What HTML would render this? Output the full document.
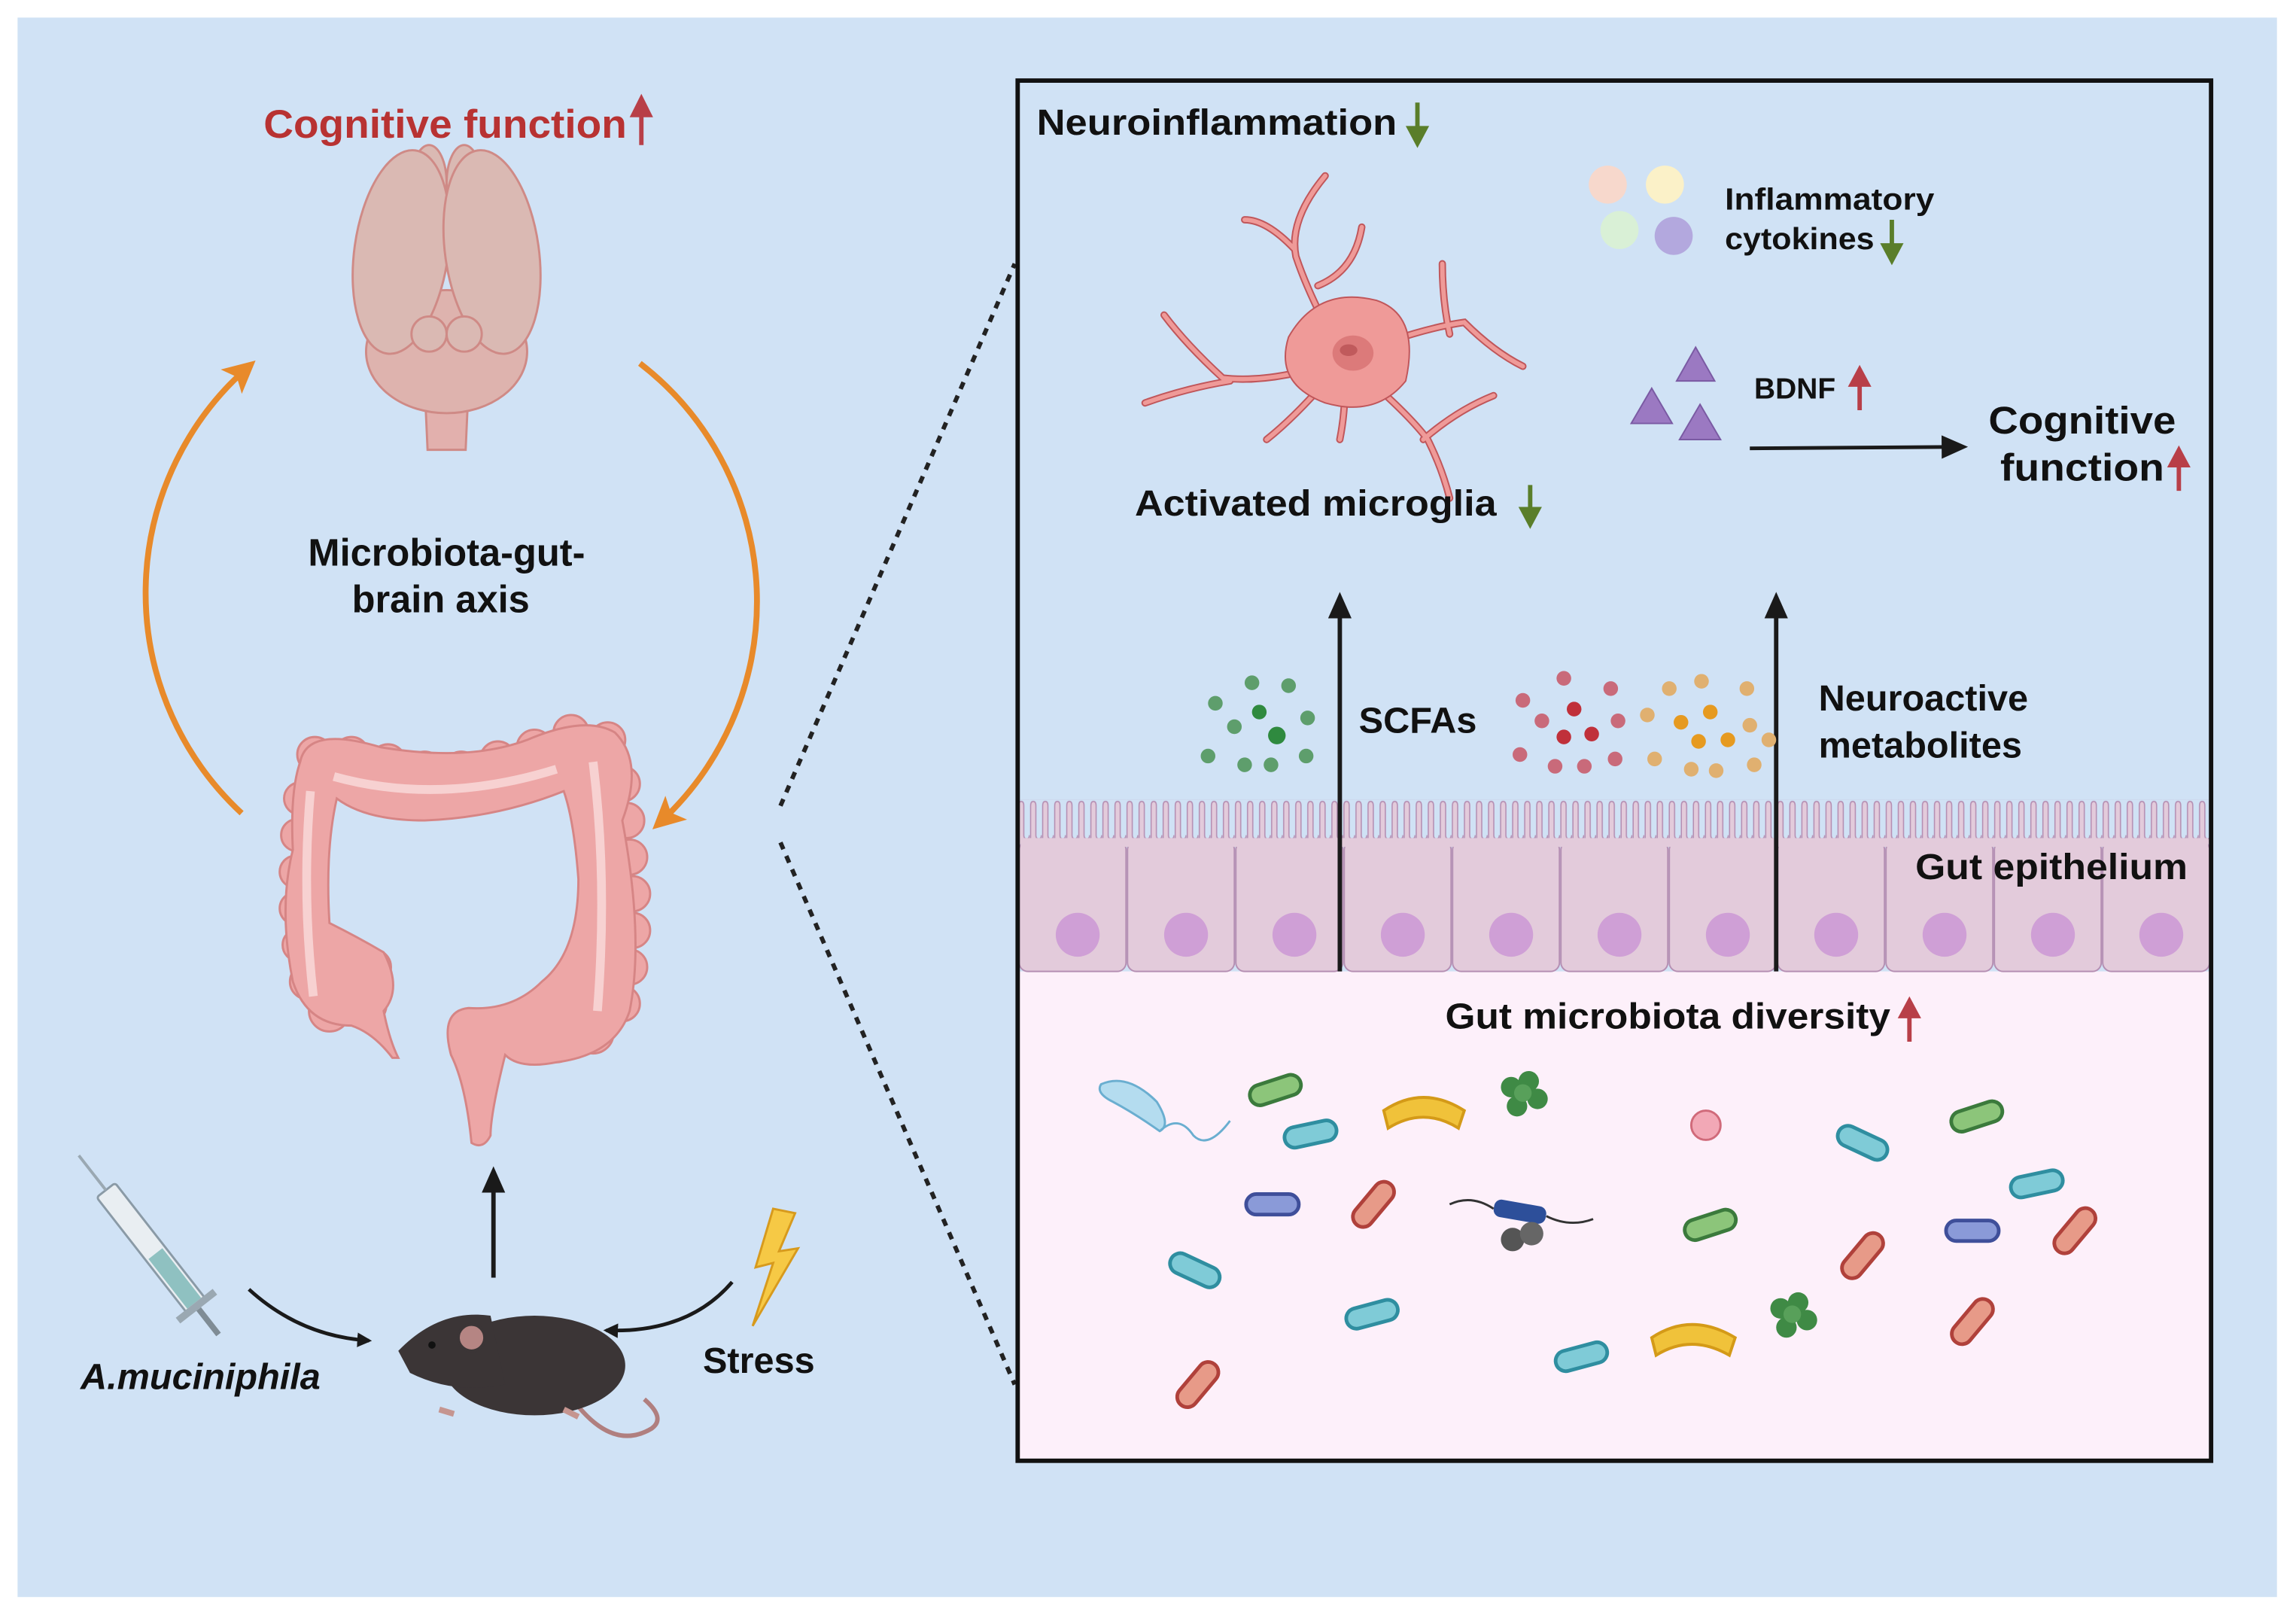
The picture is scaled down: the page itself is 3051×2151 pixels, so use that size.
<!DOCTYPE html>
<html><head><meta charset="utf-8"><style>
html,body{margin:0;padding:0;background:#fff;}
svg{display:block;}
text{font-family:"Liberation Sans",sans-serif;font-weight:bold;}
</style></head><body>
<svg width="3051" height="2151" viewBox="0 0 1568 1105" preserveAspectRatio="none" xmlns="http://www.w3.org/2000/svg">
<defs>
<marker id="ab" markerWidth="10" markerHeight="10" refX="8" refY="5" orient="auto" markerUnits="userSpaceOnUse"><path d="M0,0 L10,5 L0,10 z" fill="#1a1a1a"/></marker>
<marker id="ao" markerWidth="22" markerHeight="22" refX="16" refY="11" orient="auto" markerUnits="userSpaceOnUse"><path d="M0,0 L22,11 L0,22 L5,11 z" fill="#e88a2a"/></marker>
<marker id="abig" markerWidth="18" markerHeight="16" refX="14" refY="8" orient="auto" markerUnits="userSpaceOnUse"><path d="M0,0 L18,8 L0,16 z" fill="#1a1a1a"/></marker>
<pattern id="villi" x="695" y="546" width="8.23" height="32" patternUnits="userSpaceOnUse">
<rect x="0" y="0" width="8.23" height="32" fill="#d0e2f5"/>
<path d="M0.6,32 L0.6,4 Q0.6,1 2.4,1 Q4.2,1 4.2,4 L4.2,24 Q4.2,26.5 6.1,26.5 Q8,26.5 8,24 L8,32 z" fill="#e3cbdb" stroke="#b58fb3" stroke-width="0.8"/>
</pattern>
</defs>
<rect x="0" y="0" width="1568" height="1105" fill="#fff"/>
<rect x="12" y="12" width="1543" height="1078" fill="#d0e2f5"/>

<!-- left side -->
<text x="180" y="94" font-size="27" fill="#b83232" textLength="248" lengthAdjust="spacingAndGlyphs">Cognitive function</text>
<path d="M438,99 L438,78" stroke="#b83f48" stroke-width="3"/><path d="M430,80 L438,64 L446,80 z" fill="#b83f48"/>

<!-- brain -->
<g fill="#dab9b3" stroke="#cf8a86" stroke-width="1.5">
<path d="M290,263 L292,307 L318,307 L320,263 z" fill="#e2b0ad"/>
<ellipse cx="305" cy="240" rx="55" ry="42" fill="#deb3ae"/>
<ellipse cx="293" cy="125" rx="12" ry="26"/>
<ellipse cx="317" cy="125" rx="12" ry="26"/>
<ellipse cx="274" cy="172" rx="32" ry="70" transform="rotate(8 274 172)"/>
<ellipse cx="336" cy="172" rx="32" ry="70" transform="rotate(-8 336 172)"/>
<circle cx="293" cy="228" r="12"/><circle cx="317" cy="228" r="12"/>
</g>

<text x="305" y="386" font-size="26" fill="#111" text-anchor="middle">Microbiota-gut-</text>
<text x="301" y="418" font-size="26" fill="#111" text-anchor="middle">brain axis</text>

<!-- orange arcs -->
<path d="M165,555 A205,205 0 0 1 170,250" fill="none" stroke="#e88a2a" stroke-width="4" marker-end="url(#ao)"/>
<path d="M437,248 A205,205 0 0 1 450,562" fill="none" stroke="#e88a2a" stroke-width="4" marker-end="url(#ao)"/>

<!-- colon -->
<g fill="#eda6a6" stroke="#d68585" stroke-width="1.5">
<g>
<circle cx="215" cy="515" r="12"/><circle cx="240" cy="515" r="12"/><circle cx="265" cy="520" r="12"/><circle cx="290" cy="525" r="12"/><circle cx="315" cy="525" r="12"/><circle cx="340" cy="518" r="12"/><circle cx="365" cy="510" r="12"/><circle cx="390" cy="500" r="12"/><circle cx="415" cy="505" r="12"/>
<circle cx="425" cy="535" r="12"/><circle cx="428" cy="560" r="12"/><circle cx="430" cy="585" r="12"/><circle cx="432" cy="610" r="12"/><circle cx="432" cy="635" r="12"/><circle cx="430" cy="660" r="12"/><circle cx="425" cy="685" r="12"/><circle cx="405" cy="705" r="14"/><circle cx="380" cy="712" r="13"/>
<circle cx="205" cy="545" r="11"/><circle cx="203" cy="570" r="11"/><circle cx="202" cy="595" r="11"/><circle cx="202" cy="620" r="11"/><circle cx="204" cy="645" r="11"/><circle cx="210" cy="670" r="12"/><circle cx="225" cy="690" r="14"/><circle cx="248" cy="685" r="16"/><circle cx="255" cy="660" r="12"/>
</g>
<path d="M205,520 Q210,495 260,510 Q320,520 360,505 Q400,488 420,500 Q440,520 425,560 Q440,640 430,690 Q420,720 380,725 Q355,730 345,720 Q335,760 335,775 Q330,785 322,780 Q318,740 308,720 Q300,690 320,688 Q350,690 370,670 Q395,650 395,600 Q392,560 385,540 Q340,558 290,560 Q250,560 230,545 Q222,580 225,630 Q245,640 262,650 Q275,675 262,690 Q266,710 272,722 L268,722 Q255,705 240,700 Q210,700 200,670 Q190,620 200,580 Q198,540 205,520 z"/>
<path d="M228,530 Q300,550 380,525" fill="none" stroke="#f7d1d1" stroke-width="6"/>
<path d="M405,520 Q415,600 408,690" fill="none" stroke="#f7d1d1" stroke-width="6"/>
<path d="M212,540 Q206,610 214,680" fill="none" stroke="#f7d1d1" stroke-width="6"/>
</g>

<!-- up arrow -->
<line x1="337" y1="872" x2="337" y2="800" stroke="#1a1a1a" stroke-width="3" marker-end="url(#abig)"/>

<!-- syringe -->
<g transform="rotate(-38 108 858)">
<rect x="100" y="800" width="16" height="100" rx="2" fill="#e9eef2" stroke="#8a9aa6" stroke-width="1.5"/>
<rect x="102" y="855" width="12" height="43" fill="#8fc1c1"/>
<rect x="92" y="898" width="32" height="5" fill="#9aa8b2"/>
<line x1="108" y1="903" x2="108" y2="925" stroke="#7f8c95" stroke-width="4"/>
<line x1="108" y1="800" x2="108" y2="770" stroke="#9aa8b2" stroke-width="2"/>
</g>
<text x="55" y="948" font-size="25" fill="#111" font-style="italic">A.muciniphila</text>
<path d="M170,880 Q205,912 252,915" fill="none" stroke="#1a1a1a" stroke-width="2.5" marker-end="url(#ab)"/>
<path d="M500,875 Q470,910 414,908" fill="none" stroke="#1a1a1a" stroke-width="2.5" marker-end="url(#ab)"/>
<text x="480" y="937" font-size="25" fill="#111">Stress</text>
<path d="M528,825 L516,865 L528,862 L514,905 L545,852 L532,854 L543,828 z" fill="#f6c945" stroke="#d79a1d" stroke-width="1.5"/>

<!-- mouse -->
<g>
<path d="M395,960 Q420,990 445,975 Q455,968 440,955" fill="none" stroke="#b07f7f" stroke-width="3"/>
<ellipse cx="365" cy="932" rx="62" ry="34" fill="#3b3536"/>
<path d="M272,922 Q300,893 335,898 L345,945 Q310,952 280,937 z" fill="#3b3536"/>
<circle cx="322" cy="913" r="9" fill="#b58583" stroke="#3b3536" stroke-width="2"/>
<circle cx="295" cy="918" r="2.5" fill="#111"/>
<path d="M300,962 L310,965 M385,962 L395,967" stroke="#c59590" stroke-width="4"/>
</g>

<!-- dotted lines -->
<line x1="533" y1="550" x2="693" y2="180" stroke="#222" stroke-width="3" stroke-dasharray="5,5"/>
<line x1="533" y1="575" x2="693" y2="945" stroke="#222" stroke-width="3" stroke-dasharray="5,5"/>

<!-- right box -->
<rect x="695" y="55" width="815" height="942" fill="#d0e2f5"/>
<rect x="695" y="663" width="815" height="334" fill="#fdf0fa"/>
<rect x="695" y="546" width="815" height="30" fill="url(#villi)"/>
<g fill="#e3cbdb" stroke="#b58fb3" stroke-width="1">
<rect x="696" y="574" width="73" height="89" rx="6"/>
<rect x="770" y="574" width="73" height="89" rx="6"/>
<rect x="844" y="574" width="73" height="89" rx="6"/>
<rect x="918" y="574" width="73" height="89" rx="6"/>
<rect x="992" y="574" width="73" height="89" rx="6"/>
<rect x="1066" y="574" width="73" height="89" rx="6"/>
<rect x="1140" y="574" width="73" height="89" rx="6"/>
<rect x="1214" y="574" width="73" height="89" rx="6"/>
<rect x="1288" y="574" width="73" height="89" rx="6"/>
<rect x="1362" y="574" width="73" height="89" rx="6"/>
<rect x="1436" y="574" width="73" height="89" rx="6"/>
</g>
<rect x="697" y="572" width="811" height="6" fill="#e3cbdb"/>
<g fill="#cf9fd6">
<ellipse cx="736" cy="638" rx="15" ry="15"/><ellipse cx="810" cy="638" rx="15" ry="15"/><ellipse cx="884" cy="638" rx="15" ry="15"/><ellipse cx="958" cy="638" rx="15" ry="15"/><ellipse cx="1032" cy="638" rx="15" ry="15"/><ellipse cx="1106" cy="638" rx="15" ry="15"/><ellipse cx="1180" cy="638" rx="15" ry="15"/><ellipse cx="1254" cy="638" rx="15" ry="15"/><ellipse cx="1328" cy="638" rx="15" ry="15"/><ellipse cx="1402" cy="638" rx="15" ry="15"/><ellipse cx="1476" cy="638" rx="15" ry="15"/>
</g>
<rect x="695" y="55" width="815" height="942" fill="none" stroke="#111" stroke-width="3"/>

<text x="708" y="92" font-size="25" fill="#111" textLength="246" lengthAdjust="spacingAndGlyphs">Neuroinflammation</text>
<path d="M968,70 L968,88" stroke="#5a7e2a" stroke-width="3"/><path d="M960,86 L968,101 L976,86 z" fill="#5a7e2a"/>

<!-- microglia -->
<g stroke="#c0565a" stroke-linecap="round" fill="none">
<g stroke-width="5">
<path d="M918,245 Q895,205 885,175 Q880,150 905,120 M884,170 Q865,150 850,150 M900,195 Q925,185 930,155 M918,245 Q870,262 835,258 Q810,235 795,215 M840,260 Q810,265 782,275 M918,245 Q890,280 865,300 M918,245 Q920,275 915,300 M918,245 Q960,280 975,300 Q985,320 990,340 M918,245 Q965,225 1000,220 Q1020,240 1040,250 M990,228 Q985,205 985,180 M972,300 Q995,280 1020,270"/>
</g>
<g stroke="#ef9a98" stroke-width="3">
<path d="M918,245 Q895,205 885,175 Q880,150 905,120 M884,170 Q865,150 850,150 M900,195 Q925,185 930,155 M918,245 Q870,262 835,258 Q810,235 795,215 M840,260 Q810,265 782,275 M918,245 Q890,280 865,300 M918,245 Q920,275 915,300 M918,245 Q960,280 975,300 Q985,320 990,340 M918,245 Q965,225 1000,220 Q1020,240 1040,250 M990,228 Q985,205 985,180 M972,300 Q995,280 1020,270"/>
</g>
</g>
<path d="M880,230 Q900,195 940,205 Q970,215 960,260 Q940,285 905,275 Q870,262 880,230 z" fill="#ef9a98" stroke="#c0565a" stroke-width="1"/>
<ellipse cx="924" cy="241" rx="14" ry="12" fill="#dc7a7a"/><ellipse cx="921" cy="239" rx="6" ry="4" fill="#c05a5c"/>
<text x="775" y="352" font-size="25" fill="#111" textLength="247" lengthAdjust="spacingAndGlyphs">Activated microglia</text>
<path d="M1045,331 L1045,348" stroke="#5a7e2a" stroke-width="3"/><path d="M1037,346 L1045,361 L1053,346 z" fill="#5a7e2a"/>

<!-- cytokines -->
<circle cx="1098" cy="126" r="13" fill="#f7d8cc"/>
<circle cx="1137" cy="126" r="13" fill="#fbf1c8"/>
<circle cx="1106" cy="157" r="13" fill="#d9f0d6"/>
<circle cx="1143" cy="161" r="13" fill="#b3a8de"/>
<text x="1178" y="143" font-size="21" fill="#111" textLength="143" lengthAdjust="spacingAndGlyphs">Inflammatory</text>
<text x="1178" y="170" font-size="21" fill="#111" textLength="102" lengthAdjust="spacingAndGlyphs">cytokines</text>
<path d="M1292,150 L1292,168" stroke="#5a7e2a" stroke-width="3"/><path d="M1284,166 L1292,181 L1300,166 z" fill="#5a7e2a"/>

<!-- BDNF -->
<g fill="#9b79c2" stroke="#7a5aa3" stroke-width="1">
<path d="M1158,237 L1171,260 L1145,260 z"/>
<path d="M1128,265 L1142,289 L1114,289 z"/>
<path d="M1161,276 L1175,300 L1147,300 z"/>
</g>
<text x="1198" y="272" font-size="20" fill="#111">BDNF</text>
<path d="M1270,280 L1270,262" stroke="#b83f48" stroke-width="3"/><path d="M1262,264 L1270,249 L1278,264 z" fill="#b83f48"/>
<line x1="1195" y1="306" x2="1340" y2="305" stroke="#1a1a1a" stroke-width="2.5" marker-end="url(#abig)"/>
<text x="1358" y="296" font-size="26" fill="#111" textLength="128" lengthAdjust="spacingAndGlyphs">Cognitive</text>
<text x="1366" y="328" font-size="26" fill="#111" textLength="112" lengthAdjust="spacingAndGlyphs">function</text>
<path d="M1488,335 L1488,317" stroke="#b83f48" stroke-width="3"/><path d="M1480,319 L1488,304 L1496,319 z" fill="#b83f48"/>

<!-- vertical arrows -->
<line x1="915" y1="663" x2="915" y2="408" stroke="#1a1a1a" stroke-width="3" marker-end="url(#abig)"/>
<line x1="1213" y1="663" x2="1213" y2="408" stroke="#1a1a1a" stroke-width="3" marker-end="url(#abig)"/>

<!-- SCFAs dots -->
<g fill="#5e9e6c">
<circle cx="830" cy="480" r="5"/><circle cx="855" cy="466" r="5"/><circle cx="880" cy="468" r="5"/><circle cx="843" cy="496" r="5"/><circle cx="872" cy="502" r="6" fill="#2f8a3f"/><circle cx="893" cy="490" r="5"/><circle cx="825" cy="516" r="5"/><circle cx="850" cy="522" r="5"/><circle cx="868" cy="522" r="5"/><circle cx="892" cy="516" r="5"/><circle cx="860" cy="486" r="5" fill="#2f8a3f"/>
</g>
<text x="928" y="500" font-size="25" fill="#111">SCFAs</text>
<g fill="#c96a7a">
<circle cx="1040" cy="478" r="5"/><circle cx="1068" cy="463" r="5"/><circle cx="1100" cy="470" r="5"/><circle cx="1053" cy="492" r="5"/><circle cx="1075" cy="484" r="5" fill="#c0303a"/><circle cx="1105" cy="492" r="5"/><circle cx="1038" cy="515" r="5"/><circle cx="1068" cy="503" r="5" fill="#c0303a"/><circle cx="1087" cy="501" r="5" fill="#c0303a"/><circle cx="1062" cy="523" r="5"/><circle cx="1082" cy="523" r="5"/><circle cx="1103" cy="518" r="5"/>
</g>
<g fill="#e0b070">
<circle cx="1125" cy="488" r="5"/><circle cx="1140" cy="470" r="5"/><circle cx="1162" cy="465" r="5"/><circle cx="1193" cy="470" r="5"/><circle cx="1148" cy="493" r="5" fill="#e69a20"/><circle cx="1168" cy="486" r="5" fill="#e69a20"/><circle cx="1195" cy="495" r="5"/><circle cx="1130" cy="518" r="5"/><circle cx="1160" cy="506" r="5" fill="#e69a20"/><circle cx="1180" cy="505" r="5" fill="#e69a20"/><circle cx="1155" cy="525" r="5"/><circle cx="1172" cy="526" r="5"/><circle cx="1198" cy="522" r="5"/><circle cx="1208" cy="505" r="5"/>
</g>
<text x="1242" y="485" font-size="25" fill="#111">Neuroactive</text>
<text x="1242" y="517" font-size="25" fill="#111">metabolites</text>
<text x="1308" y="600" font-size="25" fill="#111" textLength="186" lengthAdjust="spacingAndGlyphs">Gut epithelium</text>

<text x="987" y="702" font-size="25" fill="#111" textLength="304" lengthAdjust="spacingAndGlyphs">Gut microbiota diversity</text>
<path d="M1304,711 L1304,693" stroke="#b83f48" stroke-width="3"/><path d="M1296,695 L1304,680 L1312,695 z" fill="#b83f48"/>

<!-- bacteria -->
<g stroke-width="2.5">
<rect x="-18" y="-7" width="36" height="14" rx="7" fill="#8cc57a" stroke="#3b7a3c" transform="translate(871,744) rotate(-18)"/>
<rect x="-18" y="-7" width="36" height="14" rx="7" fill="#7fcbd7" stroke="#2f8ea0" transform="translate(895,774) rotate(-12)"/>
<rect x="-18" y="-7" width="36" height="14" rx="7" fill="#8a9ad8" stroke="#3f4f9a" transform="translate(869,822)"/>
<rect x="-18" y="-7" width="36" height="14" rx="7" fill="#e79a88" stroke="#b0413b" transform="translate(938,822) rotate(-50)"/>
<rect x="-18" y="-7" width="36" height="14" rx="7" fill="#7fcbd7" stroke="#2f8ea0" transform="translate(816,867) rotate(25)"/>
<rect x="-18" y="-7" width="36" height="14" rx="7" fill="#7fcbd7" stroke="#2f8ea0" transform="translate(937,897) rotate(-15)"/>
<rect x="-18" y="-7" width="36" height="14" rx="7" fill="#e79a88" stroke="#b0413b" transform="translate(818,945) rotate(-50)"/>
<rect x="-18" y="-7" width="36" height="14" rx="7" fill="#8cc57a" stroke="#3b7a3c" transform="translate(1168,836) rotate(-18)"/>
<rect x="-18" y="-7" width="36" height="14" rx="7" fill="#7fcbd7" stroke="#2f8ea0" transform="translate(1272,780) rotate(25)"/>
<rect x="-18" y="-7" width="36" height="14" rx="7" fill="#8cc57a" stroke="#3b7a3c" transform="translate(1350,762) rotate(-18)"/>
<rect x="-18" y="-7" width="36" height="14" rx="7" fill="#7fcbd7" stroke="#2f8ea0" transform="translate(1391,808) rotate(-12)"/>
<rect x="-18" y="-7" width="36" height="14" rx="7" fill="#8a9ad8" stroke="#3f4f9a" transform="translate(1347,840)"/>
<rect x="-18" y="-7" width="36" height="14" rx="7" fill="#e79a88" stroke="#b0413b" transform="translate(1417,840) rotate(-50)"/>
<rect x="-18" y="-7" width="36" height="14" rx="7" fill="#e79a88" stroke="#b0413b" transform="translate(1272,857) rotate(-50)"/>
<rect x="-18" y="-7" width="36" height="14" rx="7" fill="#e79a88" stroke="#b0413b" transform="translate(1347,902) rotate(-50)"/>
<rect x="-18" y="-7" width="36" height="14" rx="7" fill="#7fcbd7" stroke="#2f8ea0" transform="translate(1080,926) rotate(-15)"/>
</g>
<path d="M945,758 Q972,740 1000,758 L996,770 Q972,755 948,770 z" fill="#f0c23a" stroke="#d49a18" stroke-width="2"/>
<path d="M1128,913 Q1155,895 1185,913 L1181,925 Q1155,910 1131,925 z" fill="#f0c23a" stroke="#d49a18" stroke-width="2"/>
<g fill="#3f8a45"><circle cx="1032" cy="742" r="7"/><circle cx="1044" cy="738" r="7"/><circle cx="1050" cy="750" r="7"/><circle cx="1036" cy="755" r="7"/><circle cx="1040" cy="746" r="6" fill="#58a05a"/></g>
<g fill="#3f8a45"><circle cx="1216" cy="893" r="7"/><circle cx="1228" cy="889" r="7"/><circle cx="1234" cy="901" r="7"/><circle cx="1220" cy="906" r="7"/><circle cx="1224" cy="897" r="6" fill="#58a05a"/></g>
<path d="M752,740 Q770,732 790,752 Q800,768 792,772 Q775,760 760,752 Q748,746 752,740 z" fill="#b4dcef" stroke="#6aaed0" stroke-width="1.5"/>
<path d="M792,772 Q805,760 815,775 Q825,785 840,765" fill="none" stroke="#6aaed0" stroke-width="1.5"/>
<circle cx="1165" cy="768" r="10" fill="#f2a8b6" stroke="#d06a7a" stroke-width="1.5"/>
<rect x="1020" y="821" width="36" height="12" rx="5" fill="#2d4f9a" transform="rotate(10 1038 827)"/>
<path d="M990,822 Q1005,815 1020,825 M1056,830 Q1072,838 1088,832" fill="none" stroke="#333" stroke-width="1.5"/>
<circle cx="1033" cy="846" r="8" fill="#555"/><circle cx="1046" cy="842" r="8" fill="#666"/>
</svg>
</body></html>
